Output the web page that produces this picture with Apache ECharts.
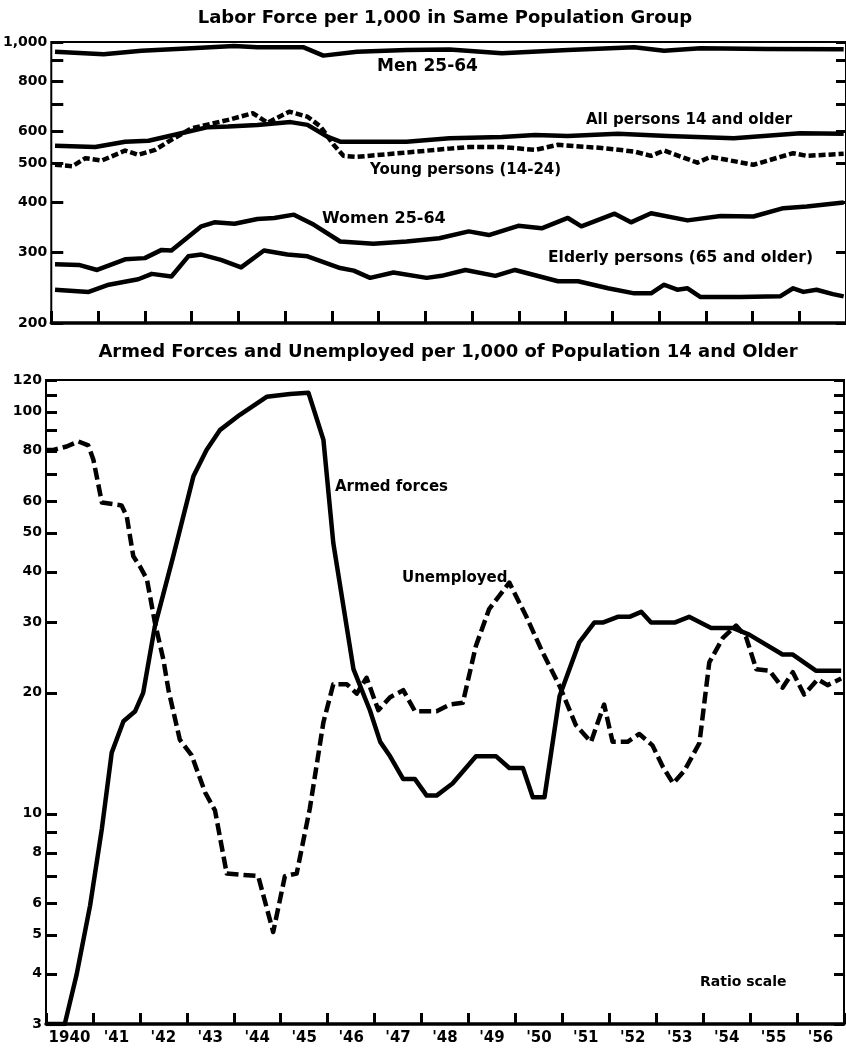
<!DOCTYPE html>
<html>
<head>
<meta charset="utf-8">
<script src="https://cdn.jsdelivr.net/npm/echarts@6/dist/echarts.min.js"></script>
<style>
  html, body { margin: 0; padding: 0; background: #fff; }
  #c_chart { width: 846px; height: 1057px; }
</style>
</head>
<body>
<div id="c_chart"></div>
<script>
// years along the bottom (one category per calendar year)
const yearLabels = ['1940', "'41", "'42", "'43", "'44", "'45", "'46", "'47", "'48",
  "'49", "'50", "'51", "'52", "'53", "'54", "'55", "'56"];

// upper panel: labor force per 1,000, [year, value]
const men = [[1940.08,946],[1941.12,932],[1941.93,951],[1943.0,965],[1943.91,977],[1944.41,970],
  [1945.4,970],[1945.82,925],[1946.54,946],[1947.6,955],[1948.52,958],[1949.64,937],[1951.05,955],
  [1952.47,970],[1953.11,951],[1953.89,965],[1955.3,961],[1956.95,959]];
const allPersons = [[1940.08,552],[1940.94,548],[1941.58,565],[1942.08,568],[1942.78,593],[1943.35,614],
  [1943.78,616],[1944.41,622],[1945.12,632],[1945.48,622],[1945.9,582],[1946.18,565],[1947.6,565],
  [1948.52,576],[1949.64,580],[1950.35,587],[1951.05,584],[1952.12,591],[1953.18,584],[1954.6,576],
  [1956.02,593],[1956.95,591]];
const young = [[1940.08,495],[1940.45,491],[1940.73,514],[1941.08,507],[1941.58,537],[1941.86,524],
  [1942.22,539],[1942.5,565],[1943.0,610],[1943.78,640],[1944.31,665],[1944.63,630],[1945.09,671],
  [1945.48,652],[1945.76,616],[1946.04,555],[1946.25,521],[1946.54,518],[1947.6,531],[1948.52,543],
  [1948.93,548],[1949.64,548],[1950.35,539],[1950.84,555],[1951.77,545],[1952.47,534],[1952.83,521],
  [1953.11,537],[1953.82,501],[1954.1,518],[1955.02,495],[1955.87,529],[1956.16,521],[1956.95,527]];
const women = [[1940.08,280],[1940.59,279],[1940.98,271],[1941.58,288],[1942.0,290],[1942.36,304],
  [1942.57,303],[1943.21,348],[1943.49,356],[1943.92,353],[1944.41,363],[1944.77,365],[1945.19,372],
  [1945.62,351],[1946.18,319],[1946.89,315],[1947.6,319],[1948.3,325],[1948.93,338],[1949.36,331],
  [1949.99,349],[1950.49,344],[1951.05,365],[1951.34,348],[1952.05,374],[1952.4,356],[1952.83,375],
  [1953.61,360],[1954.32,369],[1955.02,368],[1955.66,386],[1956.16,390],[1956.95,399]];
const elderly = [[1940.08,242],[1940.8,239],[1941.23,249],[1941.86,257],[1942.15,265],[1942.57,261],
  [1942.93,293],[1943.21,296],[1943.63,287],[1944.06,275],[1944.55,303],[1945.05,296],[1945.48,293],
  [1946.18,274],[1946.47,270],[1946.82,259],[1947.32,267],[1948.03,259],[1948.35,262],[1948.86,271],
  [1949.5,262],[1949.92,271],[1950.84,254],[1951.27,254],[1951.91,244],[1952.47,237],[1952.83,237],
  [1953.11,249],[1953.39,242],[1953.61,244],[1953.89,232],[1954.74,232],[1955.59,233],[1955.87,244],
  [1956.09,239],[1956.37,242],[1956.72,236],[1956.95,233]];

// lower panel: armed forces and unemployed per 1,000, [year, value]
const armed = [[1940.0,3],[1940.4,3],[1940.65,3.97],[1940.94,5.92],[1941.19,9.18],[1941.4,14.2],
  [1941.65,17.0],[1941.9,18.0],[1942.07,20.0],[1942.32,29.3],[1942.71,43.7],[1943.14,69.1],[1943.42,80.4],
  [1943.71,90.2],[1944.13,98.3],[1944.7,109],[1945.2,110.8],[1945.59,111.6],[1945.91,85.2],[1946.12,47.2],
  [1946.55,22.9],[1946.9,18.1],[1947.12,15.1],[1947.33,13.9],[1947.61,12.2],[1947.86,12.2],[1948.11,11.1],
  [1948.32,11.1],[1948.66,11.9],[1949.16,13.9],[1949.59,13.9],[1949.87,13.0],[1950.16,13.0],[1950.37,11.0],
  [1950.62,11.0],[1950.94,19.6],[1951.36,26.7],[1951.68,29.9],[1951.86,29.9],[1952.18,30.9],[1952.43,30.9],
  [1952.68,31.8],[1952.89,29.9],[1953.39,29.9],[1953.7,30.9],[1954.17,29.0],[1954.63,29.0],[1954.98,27.9],
  [1955.69,24.9],[1955.91,24.9],[1956.4,22.7],[1956.94,22.7]];
const unemployed = [[1940.0,80.4],[1940.16,80.4],[1940.44,82],[1940.69,84.4],[1940.9,82.5],[1941.01,76],
  [1941.15,62.8],[1941.19,59.5],[1941.61,58.5],[1941.72,55],[1941.86,43.7],[1942.0,41.3],[1942.15,38.3],
  [1942.32,29.9],[1942.5,24.2],[1942.61,20.3],[1942.85,15.3],[1943.1,14.0],[1943.39,11.3],[1943.6,10.2],
  [1943.85,7.1],[1944.52,7.0],[1944.84,5.08],[1945.09,7.0],[1945.34,7.1],[1945.62,10.3],[1945.91,16.9],
  [1946.12,21.0],[1946.41,21.0],[1946.62,19.9],[1946.83,21.8],[1947.08,18.1],[1947.33,19.5],[1947.61,20.3],
  [1947.86,18.0],[1948.32,18.0],[1948.61,18.7],[1948.88,18.9],[1949.16,26.2],[1949.44,32.3],[1949.87,37.6],
  [1950.23,31.0],[1950.58,25.2],[1950.94,20.8],[1951.29,16.6],[1951.61,15.1],[1951.89,18.7],[1952.07,15.1],
  [1952.39,15.1],[1952.64,15.8],[1952.92,14.8],[1953.14,13.1],[1953.36,11.9],[1953.6,12.8],[1953.92,15.0],
  [1954.13,23.8],[1954.42,27.4],[1954.7,29.4],[1954.91,27.6],[1955.13,22.9],[1955.41,22.7],[1955.69,20.6],
  [1955.91,22.5],[1956.15,19.8],[1956.44,21.6],[1956.65,20.9],[1956.94,21.7]];

// ratio-scale ticks
const topTicks = [200, 300, 400, 500, 600, 700, 800, 900, 1000];
const topLabels = [200, 300, 400, 500, 600, 800, 1000];
const botTicks = [3, 4, 5, 6, 7, 8, 9, 10, 20, 30, 40, 50, 60, 70, 80, 90, 100, 110, 120];
const botLabels = [3, 4, 5, 6, 8, 10, 20, 30, 40, 50, 60, 80, 100, 120];

var dm = document.getElementById('c_chart');
var ch = echarts.init(dm);
var FONT = '"DejaVu Sans", sans-serif';

function yearAxis(grid, showLabels, tickLen) {
    return {
        type: 'category', gridIndex: grid, position: 'bottom', data: yearLabels, boundaryGap: true,
        axisLine: {show: true, lineStyle: {color: '#000', width: 3.5}},
        axisTick: {show: true, inside: true, length: tickLen, interval: 0, lineStyle: {color: '#000', width: 3}},
        axisLabel: {show: showLabels, interval: 0, color: '#000', fontFamily: FONT, fontWeight: 'bold', fontSize: 15, margin: 7},
        splitLine: {show: false}
    };
}
function dataAxis(grid) {
    return {type: 'value', gridIndex: grid, position: 'top', min: 1940, max: 1957, show: false, splitLine: {show: false}};
}
function ratioAxis(grid, side, mn, mx, ticks, labels, tickLen) {
    return {
        type: 'log', gridIndex: grid, position: side, min: mn, max: mx, logBase: 10,
        axisLine: {show: false},
        splitLine: {show: false},
        axisTick: {show: true, inside: true, length: tickLen, customValues: ticks, lineStyle: {color: '#000', width: 3}},
        axisLabel: {
            show: labels != null, customValues: labels || [], margin: 4,
            color: '#000', fontFamily: FONT, fontWeight: 'bold', fontSize: 14,
            formatter: function (v) { return v === 1000 ? '1,000' : String(v); }
        }
    };
}
function line(name, xi, yi, data, dash) {
    return {
        name: name, type: 'line', xAxisIndex: xi, yAxisIndex: yi, data: data,
        showSymbol: false, symbol: 'none', animation: false, clip: true,
        lineStyle: {color: '#000', width: 4.5, type: dash || 'solid', cap: 'butt', join: 'round'}
    };
}
function note(text, x, y, size, align) {
    return {
        type: 'text', x: x, y: y,
        style: {text: text, fill: '#000', font: 'bold ' + size + 'px ' + FONT,
            textAlign: align || 'left', verticalAlign: 'middle'}
    };
}

var option = {
    backgroundColor: '#fff',
    animation: false,
    grid: [
        {left: 49, top: 42, width: 800, height: 281, show: true, borderColor: '#000', borderWidth: 2, containLabel: false},
        {left: 46, top: 380, width: 798, height: 644, show: true, borderColor: '#000', borderWidth: 2, containLabel: false}
    ],
    xAxis: [dataAxis(0), yearAxis(0, false, 12), dataAxis(1), yearAxis(1, true, 11)],
    yAxis: [
        ratioAxis(0, 'left', 200, 1000, topTicks, topLabels, 12),
        ratioAxis(0, 'right', 200, 1000, topTicks, null, 10),
        ratioAxis(1, 'left', 3, 120, botTicks, botLabels, 11),
        ratioAxis(1, 'right', 3, 120, botTicks, null, 10)
    ],
    series: [
        line('Men 25-64', 0, 0, men),
        line('All persons 14 and older', 0, 0, allPersons),
        line('Young persons (14-24)', 0, 0, young, [7, 3]),
        line('Women 25-64', 0, 0, women),
        line('Elderly persons (65 and older)', 0, 0, elderly),
        line('Armed forces', 2, 2, armed),
        line('Unemployed', 2, 2, unemployed, [12, 5])
    ],
    graphic: [
        note('Labor Force per 1,000 in Same Population Group', 445, 18, 18, 'center'),
        note('Armed Forces and Unemployed per 1,000 of Population 14 and Older', 448, 352, 18, 'center'),
        note('Men 25-64', 377, 67, 17),
        note('All persons 14 and older', 586, 120, 15),
        note('Young persons (14-24)', 370, 170, 15),
        note('Women 25-64', 322, 219, 16),
        note('Elderly persons (65 and older)', 548, 258, 15.5),
        note('Armed forces', 335, 487, 15),
        note('Unemployed', 402, 578, 15),
        note('Ratio scale', 700, 982, 14)
    ]
};

ch.setOption(option);
window.onresize = function () {
    ch.resize();
};
</script>
</body>
</html>
